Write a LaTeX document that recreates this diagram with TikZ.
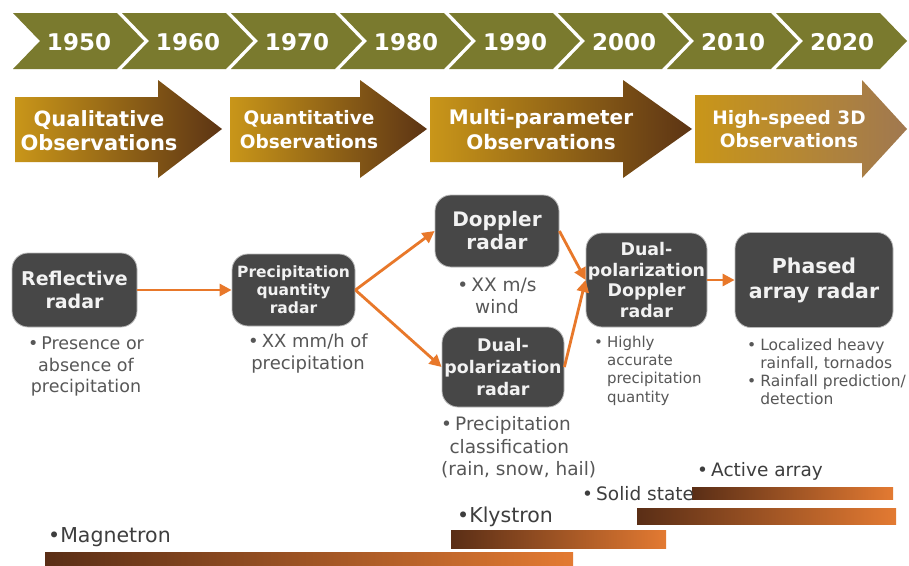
\documentclass[tikz,border=0pt]{standalone}
\usepackage{fontspec}
\setmainfont{DejaVu Sans}
\usetikzlibrary{arrows.meta}
\definecolor{chevolive}{HTML}{7A7A2E}
\definecolor{boxgray}{HTML}{474747}
\definecolor{bulletgray}{HTML}{575757}
\definecolor{connorange}{HTML}{E8782A}
\definecolor{goldA}{HTML}{C99619}
\definecolor{brownA}{HTML}{5C3414}
\definecolor{brownL}{HTML}{A07850}
\definecolor{barorange}{HTML}{E37A32}
\definecolor{bardark}{HTML}{5A2E16}
\definecolor{labelgray}{HTML}{3E3E3E}
\newcommand{\fsz}[2]{\fontsize{#1}{#2}\selectfont}
\begin{document}
\begin{tikzpicture}[x=1pt,y=-1pt,
  yeartext/.style={text=white,font=\bfseries\fsz{23}{26},inner sep=0pt},
  arrtext/.style={text=white,align=center,inner sep=0pt},
  rbox/.style={fill=boxgray,draw=gray!55,line width=0.8pt,rounded corners=16pt,text=white!95!black,align=center,inner sep=0pt},
  btext/.style={text=bulletgray,inner sep=0pt},
  barlabel/.style={text=labelgray,inner sep=0pt,anchor=west},
  conn/.style={draw=connorange,line width=2.8pt,-{Triangle[length=12pt,width=12pt]}},
  barshade/.style={left color=bardark,right color=barorange}]
\useasboundingbox (0,0) rectangle (909,565);
\fill[white] (0,0) rectangle (909,565);

% year chevrons
\foreach \i/\yr in {0/1950,1/1960,2/1970,3/1980,4/1990,5/2000,6/2010,7/2020}{
  \pgfmathsetmacro\s{13+109*\i}
  \fill[chevolive] (\s,13) -- ++(104,0) -- ++(27,28) -- ++(-27,28) -- ++(-104,0) -- ++(27,-28) -- cycle;
  \node[yeartext] (y\yr) at (\s+66,42) {\yr};
}

% era arrows
\shade[left color=goldA,right color=brownA] (15,97) -- (158,97) -- (158,80) -- (222,129) -- (158,178) -- (158,162) -- (15,162) -- cycle;
\shade[left color=goldA,right color=brownA] (230,97) -- (360,97) -- (360,80) -- (427,129) -- (360,178) -- (360,162) -- (230,162) -- cycle;
\shade[left color=goldA,right color=brownA] (430,97) -- (623,97) -- (623,80) -- (692,129) -- (623,178) -- (623,162) -- (430,162) -- cycle;
\shade[left color=goldA,right color=brownL] (695,95) -- (862,95) -- (862,80) -- (907,129) -- (862,178) -- (862,163) -- (695,163) -- cycle;
\node[arrtext,font=\bfseries\fsz{21}{24}] (e1) at (99,131) {Qualitative\\Observations};
\node[arrtext,font=\bfseries\fsz{18.5}{24}] (e2) at (309,130) {Quantitative\\Observations};
\node[arrtext,font=\bfseries\fsz{20}{25}] (e3) at (541,130) {Multi-parameter\\Observations};
\node[arrtext,font=\bfseries\fsz{18.5}{23}] (e4) at (789,129.5) {High-speed 3D\\Observations};

% radar boxes
\node[rbox,minimum width=125pt,minimum height=74pt,font=\bfseries\fsz{19}{23}] (refl) at (74.5,290) {Reflective\\radar};
\node[rbox,minimum width=123pt,minimum height=72pt,font=\bfseries\fsz{15.5}{18}] (precip) at (293.5,290) {Precipitation\\quantity\\radar};
\node[rbox,minimum width=124pt,minimum height=72pt,font=\bfseries\fsz{20}{23}] (doppler) at (497,231) {Doppler\\radar};
\node[rbox,minimum width=122pt,minimum height=80pt,font=\bfseries\fsz{17.4}{22}] (dualpol) at (503,367) {Dual-\\polarization\\radar};
\node[rbox,minimum width=121pt,minimum height=94pt,font=\bfseries\fsz{17.4}{20.7}] (dpd) at (646.5,280) {Dual-\\polarization\\Doppler\\radar};
\node[rbox,minimum width=158pt,minimum height=95pt,font=\bfseries\fsz{20.5}{25}] (phased) at (814,280) {Phased\\array radar};

% connectors
\draw[conn] (refl.east) -- (precip.west);
\draw[conn] (precip.east) -- (doppler.west);
\draw[conn] (precip.east) -- (dualpol.west);
\draw[conn] (doppler.east) -- (dpd.west);
\draw[conn] (dualpol.east) -- (dpd.west);
\draw[conn] (dpd.east) -- (phased.west);

% bullet texts
\node[btext,align=center,font=\fsz{17.5}{21.5}] (b1) at (86,366.5) {\textbullet\,Presence or\\absence of\\precipitation};
\node[btext,align=center,font=\fsz{18}{22}] (b2) at (308,354) {\textbullet\,XX mm/h of\\precipitation};
\node[btext,align=center,font=\fsz{18.5}{22}] (b3) at (497,296) {\textbullet\,XX m/s\\wind};
\node[btext,align=left,anchor=west,font=\fsz{18.5}{22.5}] (b4) at (441,447.5) {\textbullet\,Precipitation\\\hspace*{0.45em}classification\\(rain, snow, hail)};
\node[btext,align=left,anchor=west,font=\fsz{15}{18.3}] (b5) at (594,370.5) {\textbullet\hspace{4pt}Highly\\\phantom{\textbullet}\hspace{4pt}accurate\\\phantom{\textbullet}\hspace{4pt}precipitation\\\phantom{\textbullet}\hspace{4pt}quantity};
\node[btext,align=left,anchor=west,font=\fsz{15.5}{18}] (b6) at (747,372) {\textbullet\hspace{4pt}Localized heavy\\\phantom{\textbullet}\hspace{4pt}rainfall, tornados\\\textbullet\hspace{4pt}Rainfall prediction/\\\phantom{\textbullet}\hspace{4pt}detection};

% technology bars
\shade[barshade] (45,552) rectangle (573,566);
\shade[barshade] (451,530) rectangle (666,548);
\shade[barshade] (637,508) rectangle (896,524);
\shade[barshade] (692,487) rectangle (893,499);
\node[barlabel,font=\fsz{20.5}{24}] (lmag) at (48,537) {\textbullet Magnetron};
\node[barlabel,font=\fsz{20.5}{24}] (lkly) at (457,517) {\textbullet Klystron};
\node[barlabel,font=\fsz{18.5}{22}] (lsol) at (582,494) {\textbullet\,Solid state};
\node[barlabel,font=\fsz{18.5}{22}] (lact) at (697,471) {\textbullet\,Active array};
\end{tikzpicture}
\end{document}
